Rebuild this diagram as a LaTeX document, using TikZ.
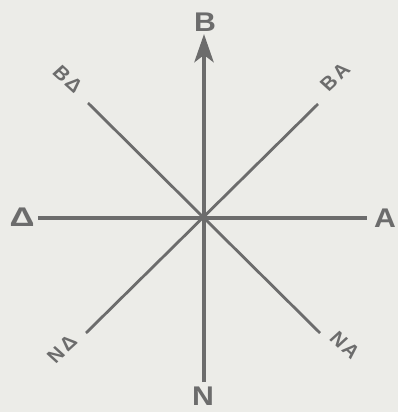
\documentclass[tikz,border=0pt]{standalone}
\usepackage{fontspec}
\setmainfont{Liberation Sans}
\usetikzlibrary{arrows.meta}
\definecolor{ink}{RGB}{108,108,108}
\definecolor{paper}{RGB}{236,236,232}
\begin{document}
\begin{tikzpicture}[x=1pt,y=-1pt,
  lbl/.style={text=ink,font=\bfseries\fontsize{27}{27}\selectfont,inner sep=0pt,xscale=1.12},
  dlbl/.style={text=ink,font=\bfseries\fontsize{19}{19}\selectfont,inner sep=0pt,xscale=1.1},
  mainline/.style={draw=ink,line width=4.8pt},
  hline/.style={draw=ink,line width=4pt},
  diag/.style={draw=ink,line width=2.8pt}]
\fill[paper] (0,0) rectangle (398,412);
\useasboundingbox (0,0) rectangle (398,412);
\coordinate (c) at (204,218);
\coordinate (top) at (204,34);
\coordinate (bot) at (204,382);
\coordinate (lft) at (38,218);
\coordinate (rgt) at (367,218);
\coordinate (nw) at (88,103);
\coordinate (se) at (320,333);
\coordinate (ne) at (318,104);
\coordinate (sw) at (86,333);
\node[lbl] (B) at (205,22) {B};
\node[lbl] (N) at (203,396) {N};
\node[lbl,xscale=1.15] (D) at (22,217) {Δ};
\node[lbl] (A) at (385,218) {A};
\node[dlbl,rotate=-45] (BD) at (68,79) {B\kern2ptΔ};
\node[dlbl,rotate=45] (BA) at (335,77) {B\kern2ptA};
\node[dlbl,rotate=45] (ND) at (62,349) {N\kern2ptΔ};
\node[dlbl,rotate=-45] (NA) at (345,345) {N\kern2ptA};
\draw[diag] (nw) -- (se);
\draw[diag] (sw) -- (ne);
\draw[hline] (lft) -- (rgt);
\draw[mainline,-{Stealth[length=28pt,width=19pt,inset=7pt]}] (bot) -- (top);
\end{tikzpicture}
\end{document}
